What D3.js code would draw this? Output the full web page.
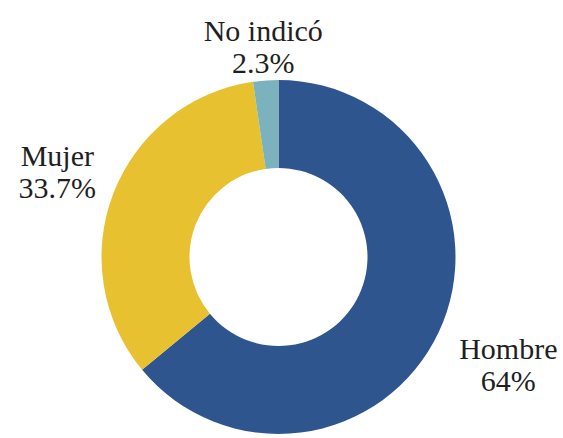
<!DOCTYPE html>
<html lang="es">
<head>
    <meta charset="UTF-8">
    <title>Donut</title>
    <script src="https://d3js.org/d3.v7.min.js"></script>
    <style>
        body { margin: 0; background: #fff; }
        text.lbl { font-family: "Liberation Serif", Tinos, "Times New Roman", Times, "DejaVu Serif", serif; font-size: 30px; }
    </style>
</head>
<body>
    <svg width="563" height="438"></svg>

    <script>
        // Data
        const categories = ["Hombre", "Mujer", "No indicó"];
        const values = [64, 33.7, 2.3];
        const valueLabels = ["64%", "33.7%", "2.3%"];
        const colors = ["#2f558f", "#e8c130", "#7bb2bd"];

        // Layout
        const width = 563, height = 438;
        const cx = 278.5, cy = 257;
        const outerR = 177, innerR = 89;
        // distance from centre to each label's middle
        const labelDist = { "Hombre": 254, "Mujer": 237, "No indicó": 211 };
        const lineH = 32;

        const svg = d3.select("svg");
        const g = svg.append("g").attr("transform", `translate(${cx},${cy})`);

        const data = categories.map((c, i) => ({ name: c, value: values[i], label: valueLabels[i], color: colors[i] }));

        const pie = d3.pie().sort(null).value(d => d.value);
        const arc = d3.arc().innerRadius(innerR).outerRadius(outerR);
        const arcs = pie(data);

        g.selectAll("path")
            .data(arcs)
            .enter().append("path")
            .attr("d", arc)
            .attr("fill", d => d.data.color);

        // Labels outside the ring, along each slice's mid angle
        const labels = g.selectAll("text.lbl")
            .data(arcs)
            .enter().append("text")
            .attr("class", "lbl")
            .attr("text-anchor", "middle")
            .attr("fill", "#1f1f1f")
            .attr("transform", d => {
                const a = (d.startAngle + d.endAngle) / 2;
                const r = labelDist[d.data.name];
                return `translate(${Math.sin(a) * r},${-Math.cos(a) * r})`;
            });

        labels.append("tspan")
            .attr("x", 0)
            .attr("y", -lineH / 2 + 10)
            .text(d => d.data.name);

        labels.append("tspan")
            .attr("x", 0)
            .attr("y", lineH / 2 + 10)
            .text(d => d.data.label);
    </script>
</body>
</html>
